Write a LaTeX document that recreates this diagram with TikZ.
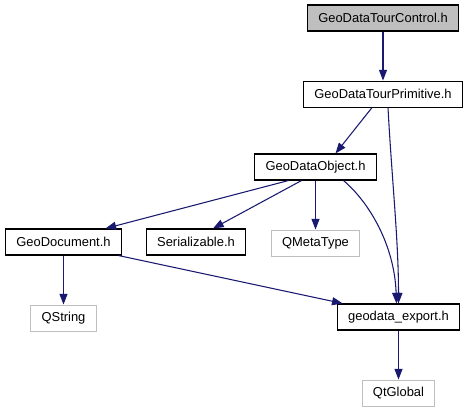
\documentclass[tikz,border=0pt]{standalone}
\usepackage{fontspec}
\setmainfont{Liberation Sans}
\usetikzlibrary{arrows.meta,positioning,calc}
\definecolor{edgeblue}{RGB}{25,25,112}
\definecolor{curgray}{RGB}{191,191,191}
\definecolor{extgray}{RGB}{191,191,191}
\tikzset{
 file/.style={rectangle,draw=black,fill=white,line width=0.8pt,inner xsep=8.2pt,minimum height=19.5pt,font=\fontsize{9.7}{11}\selectfont},
 curfile/.style={file,fill=curgray},
 extfile/.style={file,draw=extgray},
 incl/.style={-{Triangle[length=8pt,width=6pt]},line width=0.8pt,draw=edgeblue}}

\begin{document}
\begin{tikzpicture}[x=0.75pt,y=-0.75pt,node distance=36.75pt]
\useasboundingbox (0,0) rectangle (469,411);
\node[curfile] at (383,18) (ctrl) {GeoDataTourControl.h};
\node[file,below=of ctrl] (prim) {GeoDataTourPrimitive.h};
\node[file] at (315.5,167) (obj) {GeoDataObject.h};
\node[file] at (63.5,242) (doc) {GeoDocument.h};
\node[file] at (196,242) (ser) {Serializable.h};
\node[extfile,below=of obj] (meta) {QMetaType};
\node[extfile,below=of doc] (qstr) {QString};
\node[file] at (398.5,317) (exp) {geodata\_export.h};
\node[extfile,below=of exp] (qglob) {QtGlobal};
\draw[incl] (ctrl)--(prim);
\draw[incl] ($(prim.south)+(-11,0)$)--($(obj.north)+(20,0)$);
\draw[incl] ($(prim.south)+(5,0)$) .. controls ($(prim.south)+(9,74)$) and ($(exp.north)+(0,-64)$) .. (exp.north);
\draw[incl] ($(obj.south)+(-27,0)$)--($(doc.north)+(42,0)$);
\draw[incl] ($(obj.south)+(-14,0)$)--($(ser.north)+(17,0)$);
\draw[incl] (obj)--(meta);
\draw[incl] ($(obj.south)+(28,0)$) .. controls ($(obj.south)+(54,22)$) and ($(exp.north)+(-4,-58)$) .. ($(exp.north)+(-2,0)$);
\draw[incl] (doc)--(qstr);
\draw[incl] ($(doc.south)+(55,0)$)--($(exp.north west)+(6,0)$);
\draw[incl] (exp)--(qglob);
\end{tikzpicture}
\end{document}
